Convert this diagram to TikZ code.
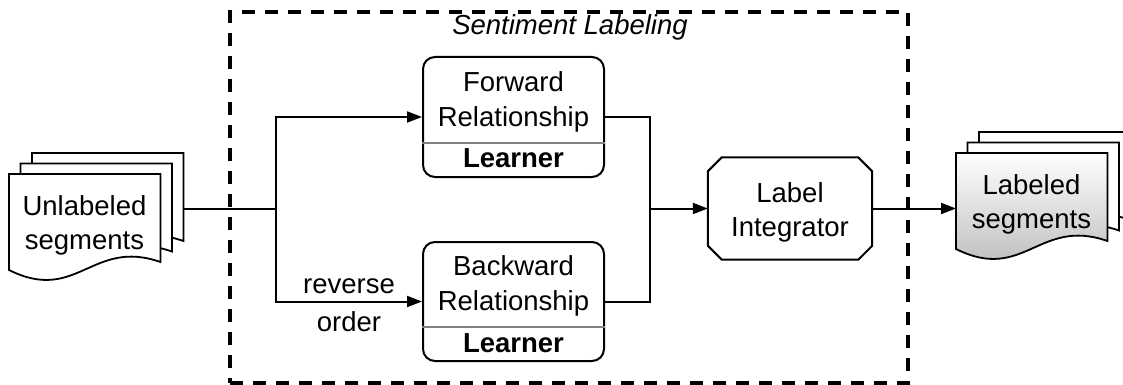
\documentclass[tikz,border=0pt]{standalone}
\usepackage{fontspec}
\setmainfont{Liberation Sans}
\usetikzlibrary{arrows.meta,calc}

\tikzset{
  x=1pt, y=-1pt,
  conn/.style={line width=2pt},
  arr/.style={conn, -{Triangle[length=15pt,width=11pt]}},
  learnerbox/.style={draw, line width=2pt, rounded corners=12pt,
    minimum width=181pt, minimum height=120pt, inner sep=0pt},
  txt/.style={anchor=base, inner sep=0pt, font=\fontsize{27.5}{34}\selectfont},
  docarea/.style={inner sep=0pt, minimum width=151pt, minimum height=105pt, anchor=north west},
  docline/.style={line width=1.8pt, fill=white},
  frame/.style={draw, line width=3.5pt, dash pattern=on 13pt off 10pt,
    minimum width=678pt, minimum height=371pt, inner sep=0pt},
}

% outline of a "document" sheet with a wavy lower edge
\newcommand\sheetoutline[2][]{%
  \draw[docline,#1] (#2.north west) -- (#2.north east)
    -- ($(#2.north east)+(0,88)$)
    .. controls ($(#2.north west)+(83,64)$) and ($(#2.north west)+(68,130)$)
    .. ($(#2.north west)+(0,96)$) -- cycle;}

\begin{document}
\begin{tikzpicture}
\useasboundingbox (0,0) rectangle (1123,385);

% dashed group frame
\node[frame] (frame) at (569,197.5) {};
\node[txt, font=\fontsize{27.5}{34}\selectfont\itshape] (title) at (570,35) {Sentiment Labeling};

% input stack of sheets
\node[docarea] (ubk) at (32,153) {};
\node[docarea] (umd) at (20.5,163.5) {};
\node[docarea] (ufr) at (9,174) {};
\sheetoutline{ubk}
\sheetoutline{umd}
\sheetoutline{ufr}
\node[txt] (u1) at (84.5,215) {Unlabeled};
\node[txt] (u2) at (84.5,249) {segments};

% output stack of sheets
\node[docarea] (lbk) at (979,132) {};
\node[docarea] (lmd) at (967.5,142.5) {};
\node[docarea] (lfr) at (956,153) {};
\sheetoutline{lbk}
\sheetoutline{lmd}
\sheetoutline[top color=white, bottom color={rgb,255:red,180;green,180;blue,180}]{lfr}
\node[txt] (l1) at (1031.5,194) {Labeled};
\node[txt] (l2) at (1031.5,228) {segments};

% learners
\node[learnerbox] (fwd) at (513.5,117) {};
\draw[gray, line width=1.3pt] ($(fwd.north west)+(0,87)$) -- ($(fwd.north east)+(0,87)$);
\node[txt] (f1) at (513.5,92) {Forward};
\node[txt] (f2) at (513.5,126) {Relationship};
\node[txt, font=\fontsize{27.5}{34}\selectfont\bfseries] (f3) at (513.5,167) {Learner};

\node[learnerbox, minimum height=119pt] (bwd) at (513.5,301.5) {};
\draw[gray, line width=1.3pt] ($(bwd.north west)+(0,86)$) -- ($(bwd.north east)+(0,86)$);
\node[txt] (b1) at (513.5,275) {Backward};
\node[txt] (b2) at (513.5,310) {Relationship};
\node[txt, font=\fontsize{27.5}{34}\selectfont\bfseries] (b3) at (513.5,352) {Learner};

% integrator with cut corners
\node[inner sep=0pt, minimum width=164pt, minimum height=102pt] (integ) at (790,208.5) {};
\draw[conn] ($(integ.north west)+(14,0)$) -- ($(integ.north east)+(-14,0)$)
  -- ($(integ.north east)+(0,14)$) -- ($(integ.south east)+(0,-14)$)
  -- ($(integ.south east)+(-14,0)$) -- ($(integ.south west)+(14,0)$)
  -- ($(integ.south west)+(0,-14)$) -- ($(integ.north west)+(0,14)$) -- cycle;
\node[txt] (i1) at (790,202) {Label};
\node[txt] (i2) at (790,236) {Integrator};

% connectors
\coordinate (split) at (276,208.5);
\coordinate (merge) at (650,208.5);
\draw[conn] (ubk.east |- split) -- (split);
\draw[arr] (split) |- (fwd.west);
\draw[arr] (split) |- node[txt, pos=0.75, yshift=8pt] (rev) {reverse}
                     node[txt, pos=0.75, yshift=-30pt] (ord) {order} (bwd.west);
\draw[conn] (fwd.east) -| (merge);
\draw[conn] (bwd.east) -| (merge);
\draw[arr] (merge) -- (merge -| integ.west);
\draw[arr] (integ.east) -- (integ.east -| lfr.west);
\end{tikzpicture}
\end{document}
